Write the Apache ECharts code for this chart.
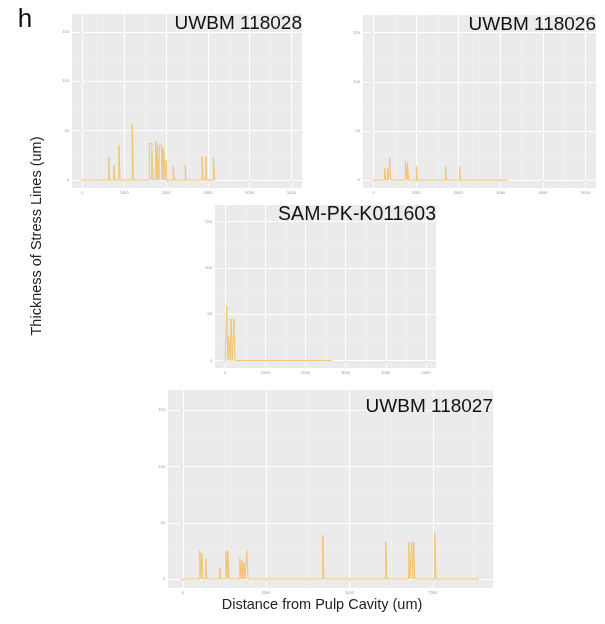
<!DOCTYPE html>
<html>
<head>
<meta charset="utf-8">
<script src="https://cdn.jsdelivr.net/npm/echarts@6/dist/echarts.min.js"></script>
<style>
html,body{margin:0;padding:0;background:#fff;}
#chart{width:605px;height:624px;}
</style>
</head>
<body>
<div id="chart"></div>
<script>
// ---- Data (distance from pulp cavity, um ; thickness of stress lines, um) ----
const panelTitles = ['UWBM 118028', 'UWBM 118026', 'SAM-PK-K011603', 'UWBM 118027'];

const p1PeakDist  = [630, 750, 870, 1190, 1600, 1660, 1750, 1790, 1840, 1900, 1940, 2000, 2170, 2460, 2860, 2950, 3130];
const p1PeakThick = [23, 15, 35, 57, 37, 26, 39, 36, 35, 32, 32, 20, 14, 15, 24, 24, 22];
const p1PeakWidth = [20, 20, 30, 30, 60, 40, 40, 40, 60, 40, 40, 20, 30, 20, 30, 20, 40];
const p1End = 3180;

const p2PeakDist  = [260, 330, 380, 750, 800, 1010, 1700, 2030];
const p2PeakThick = [12, 12, 23, 20, 18, 14, 14, 14];
const p2PeakWidth = [20, 20, 20, 40, 30, 20, 20, 20];
const p2End = 3160;

const p3PeakDist  = [40, 90, 150, 220];
const p3PeakThick = [59, 26, 45, 45];
const p3PeakWidth = [30, 40, 30, 30];
const p3End = 2670;

const p4PeakDist  = [510, 570, 690, 1110, 1290, 1350, 1710, 1770, 1830, 1920, 4200, 6090, 6780, 6870, 6930, 7560];
const p4PeakThick = [25, 23, 18, 10, 25, 25, 18, 17, 15, 25, 39, 33, 33, 33, 33, 41];
const p4PeakWidth = [40, 40, 30, 30, 40, 40, 40, 40, 40, 40, 30, 30, 30, 30, 30, 40];
const p4End = 8880;

const yTicks = [0, 50, 100, 150];
const yMinorTicks = [25, 75, 125];
const xTicksTop = [0, 1000, 2000, 3000, 4000, 5000];
const xMinorTop = [500, 1500, 2500, 3500, 4500];
const xTicksBottom = [0, 2500, 5000, 7500];
const xMinorBottom = [1250, 3750, 6250, 8750];

// ---- Build line points ----
function buildLine(dist, thick, width, end) {
  const pts = [[0, 0]];
  for (let i = 0; i < dist.length; i++) {
    const x0 = dist[i], x1 = dist[i] + width[i];
    pts.push([x0, 0], [x0, thick[i]], [x1, thick[i]], [x1, 0]);
  }
  pts.push([end, 0]);
  return pts;
}

const lines = [
  buildLine(p1PeakDist, p1PeakThick, p1PeakWidth, p1End),
  buildLine(p2PeakDist, p2PeakThick, p2PeakWidth, p2End),
  buildLine(p3PeakDist, p3PeakThick, p3PeakWidth, p3End),
  buildLine(p4PeakDist, p4PeakThick, p4PeakWidth, p4End)
];

// ---- Layout ----
const grids = [
  {left: 72,  top: 14,  width: 230, height: 174},
  {left: 363, top: 15,  width: 233, height: 173},
  {left: 215, top: 205, width: 221, height: 163},
  {left: 168, top: 390, width: 325, height: 198}
];
const xRanges = [[-250, 5250], [-250, 5250], [-250, 5250], [-443, 9307]];
const yRange = [-8, 168];
const majorX = [xTicksTop, xTicksTop, xTicksTop, xTicksBottom];
const minorX = [xMinorTop, xMinorTop, xMinorTop, xMinorBottom];
const titleSizes = [19, 19, 19.5, 19];
const titleOffsets = [10, 10, 10, 17];

const FONT = '"Liberation Sans", Arial, Helvetica, sans-serif';
const tickLabel = {color: '#9a9a9a', fontSize: 4, fontFamily: FONT, formatter: v => String(v)};

const option = {
  animation: false,
  grid: grids.map(g => Object.assign({show: true, backgroundColor: '#EBEBEB', borderWidth: 0}, g)),
  xAxis: [],
  yAxis: [],
  series: [],
  graphic: []
};

for (let i = 0; i < 4; i++) {
  option.xAxis.push({
    type: 'value', gridIndex: i, min: xRanges[i][0], max: xRanges[i][1], position: 'bottom',
    axisLine: {show: false},
    axisTick: {show: true, length: 2, lineStyle: {color: '#bbbbbb', width: 0.5}, customValues: majorX[i]},
    axisLabel: Object.assign({margin: 3, customValues: majorX[i]}, tickLabel),
    splitLine: {show: true, lineStyle: {color: '#ffffff', width: 1}}
  });
  option.xAxis.push({
    type: 'value', gridIndex: i, min: xRanges[i][0], max: xRanges[i][1], position: 'top',
    axisLine: {show: false},
    axisTick: {show: false, customValues: minorX[i]},
    axisLabel: {show: false},
    splitLine: {show: true, lineStyle: {color: '#f4f4f4', width: 0.5}}
  });
  option.yAxis.push({
    type: 'value', gridIndex: i, min: yRange[0], max: yRange[1], position: 'left',
    axisLine: {show: false},
    axisTick: {show: true, length: 2, lineStyle: {color: '#bbbbbb', width: 0.5}, customValues: yTicks},
    axisLabel: Object.assign({margin: 3, customValues: yTicks}, tickLabel),
    splitLine: {show: true, lineStyle: {color: '#ffffff', width: 1}}
  });
  option.yAxis.push({
    type: 'value', gridIndex: i, min: yRange[0], max: yRange[1], position: 'right',
    axisLine: {show: false},
    axisTick: {show: false, customValues: yMinorTicks},
    axisLabel: {show: false},
    splitLine: {show: true, lineStyle: {color: '#f4f4f4', width: 0.5}}
  });
  option.series.push({
    type: 'line', xAxisIndex: 2 * i, yAxisIndex: 2 * i,
    data: lines[i], showSymbol: false, symbol: 'none',
    lineStyle: {color: '#F5C36B', width: 1}, z: 5
  });
  const g = grids[i];
  option.graphic.push({
    type: 'text', x: g.left + g.width, y: g.top + titleOffsets[i],
    style: {text: panelTitles[i], textAlign: 'right', textVerticalAlign: 'middle',
            font: titleSizes[i] + 'px ' + FONT, fill: '#111'}, z: 10
  });
}

option.graphic.push(
  {type: 'text', x: 25, y: 20, style: {text: 'h', textAlign: 'center', textVerticalAlign: 'middle', font: '26px ' + FONT, fill: '#111'}},
  {type: 'text', x: 37, y: 236, rotation: Math.PI / 2,
   style: {text: 'Thickness of Stress Lines (um)', textAlign: 'center', textVerticalAlign: 'middle', font: '14.5px ' + FONT, fill: '#222'}},
  {type: 'text', x: 322, y: 605,
   style: {text: 'Distance from Pulp Cavity (um)', textAlign: 'center', textVerticalAlign: 'middle', font: '14.5px ' + FONT, fill: '#222'}}
);

const chart = echarts.init(document.getElementById('chart'), null, {renderer: 'canvas'});
chart.setOption(option);
</script>
</body>
</html>
